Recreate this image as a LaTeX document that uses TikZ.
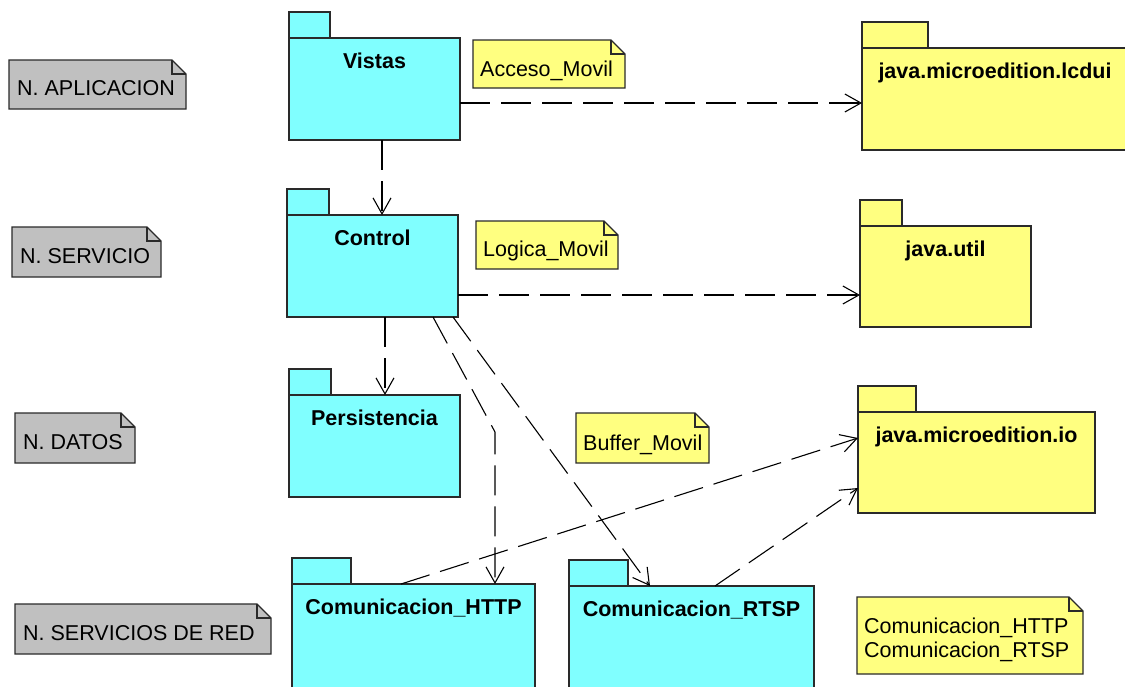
\documentclass[tikz,border=0pt]{standalone}
\usepackage{fontspec}
\setmainfont{Liberation Sans}
\usetikzlibrary{arrows.meta,calc}
\definecolor{pkgcyan}{HTML}{80FFFF}
\definecolor{pkgyellow}{HTML}{FFFF80}
\definecolor{notegray}{HTML}{C0C0C0}
\definecolor{edgegray}{HTML}{2A2A2A}
\tikzset{
  pkgbody/.style={draw=edgegray, line width=1.3pt, rectangle, inner sep=0pt, outer sep=0pt, anchor=north west},
  pkgtab/.style={draw=edgegray, line width=1.3pt, rectangle, inner sep=0pt, outer sep=0pt, minimum height=26pt, anchor=south west},
  pkglabel/.style={font=\fontsize{21.5}{24}\selectfont\bfseries, inner sep=0pt, anchor=base},
  notebox/.style={rectangle, inner sep=0pt, outer sep=0pt, anchor=north west},
  noteline/.style={draw=edgegray, line width=1.3pt},
  notetext/.style={font=\fontsize{21.5}{24}\selectfont, inner sep=0pt, anchor=base west},
  dep/.style={draw=black, line width=1.1pt, dash pattern=on 30pt off 11pt, -{Straight Barb[length=16pt,width=18pt]}},
}
% name, x, y, w, h, tab width, fill, label
\newcommand\umlpkg[8]{%
  \node[pkgbody, fill=#7, minimum width=#4pt, minimum height=#5pt] (#1) at (#2,#3) {};
  \node[pkgtab, fill=#7, minimum width=#6pt] (#1tab) at (#1.north west) {};
  \node[pkglabel] (#1txt) at ([yshift=-30pt]#1.north) {#8};
}
% name, x, y, w, h, fill
\newcommand\umlnotebox[6]{%
  \node[notebox, minimum width=#4pt, minimum height=#5pt] (#1) at (#2,#3) {};
  \draw[noteline, fill=#6] (#1.north west) -- ([xshift=-14pt]#1.north east) -- ([yshift=-14pt]#1.north east) -- (#1.south east) -- (#1.south west) -- cycle;
  \draw[noteline, line width=1.1pt] ([xshift=-14pt]#1.north east) |- ([yshift=-14pt]#1.north east);
}
\begin{document}
\begin{tikzpicture}[x=1pt,y=-1pt]
\useasboundingbox (0,0) rectangle (1125,686);
\fill[white] (0,0) rectangle (1125,686);

% layer notes
\umlnotebox{napl}{9}{60}{177}{49}{notegray}
\node[notetext] (napltxt) at ([xshift=8pt,yshift=14pt]napl.south west) {N. APLICACION};
\umlnotebox{nserv}{12}{227}{149}{50}{notegray}
\node[notetext] (nservtxt) at ([xshift=8pt,yshift=14pt]nserv.south west) {N. SERVICIO};
\umlnotebox{ndatos}{15}{413}{120}{50}{notegray}
\node[notetext] (ndatostxt) at ([xshift=8pt,yshift=14pt]ndatos.south west) {N. DATOS};
\umlnotebox{nred}{15}{604}{256}{50}{notegray}
\node[notetext] (nredtxt) at ([xshift=8pt,yshift=14pt]nred.south west) {N. SERVICIOS DE RED};

% packages
\umlpkg{vistas}{289}{38}{171}{102}{41}{pkgcyan}{Vistas}
\umlpkg{control}{287}{215}{171}{102}{42}{pkgcyan}{Control}
\umlpkg{persist}{289}{395}{171}{102}{42}{pkgcyan}{Persistencia}
\umlpkg{http}{292}{584}{243}{110}{59}{pkgcyan}{Comunicacion\_HTTP}
\umlpkg{rtsp}{569}{586}{245}{110}{59}{pkgcyan}{Comunicacion\_RTSP}
\umlpkg{lcdui}{862}{48}{266}{102}{66}{pkgyellow}{java.microedition.lcdui}
\umlpkg{util}{860}{226}{171}{101}{42}{pkgyellow}{java.util}
\umlpkg{io}{858}{412}{237}{101}{58}{pkgyellow}{java.microedition.io}

% yellow notes
\umlnotebox{acceso}{473}{40}{152}{48}{pkgyellow}
\node[notetext] (accesotxt) at ([xshift=7pt,yshift=12pt]acceso.south west) {Acceso\_Movil};
\umlnotebox{logica}{476}{221}{142}{48}{pkgyellow}
\node[notetext] (logicatxt) at ([xshift=7pt,yshift=13pt]logica.south west) {Logica\_Movil};
\umlnotebox{buffer}{576}{413}{133}{50}{pkgyellow}
\node[notetext] (buffertxt) at ([xshift=7pt,yshift=13pt]buffer.south west) {Buffer\_Movil};
\umlnotebox{comnote}{857}{597}{226}{77}{pkgyellow}
\node[notetext] (comnoteA) at ([xshift=7pt,yshift=-36pt]comnote.north west) {Comunicacion\_HTTP};
\node[notetext] (comnoteB) at ([xshift=7pt,yshift=-60pt]comnote.north west) {Comunicacion\_RTSP};

% dependencies
\draw[dep] ([xshift=7.5pt]vistas.south) -- ([xshift=7.5pt]vistas.south |- control.north);
\draw[dep] ([yshift=-14pt]vistas.east) -- ([yshift=-14pt]vistas.east -| lcdui.west);
\draw[dep] ([yshift=-29pt]control.east) -- ([yshift=-29pt]control.east -| util.west);
\draw[dep] ([xshift=12.5pt]control.south) -- ([xshift=12.5pt]control.south |- persist.north);
\coordinate (bendH) at (495,432);
\draw[dep] ([xshift=60.5pt]control.south) -- (bendH) -- (bendH |- http.north);
\draw[dep] ([xshift=80.5pt]control.south) -- ([xshift=-41.5pt]rtsp.north);
\draw[dep] ([xshift=-12.5pt]http.north) -- ([yshift=24.5pt]io.west);
\draw[dep] ([xshift=23.5pt]rtsp.north) -- ([yshift=-25.5pt]io.west);
\end{tikzpicture}
\end{document}
